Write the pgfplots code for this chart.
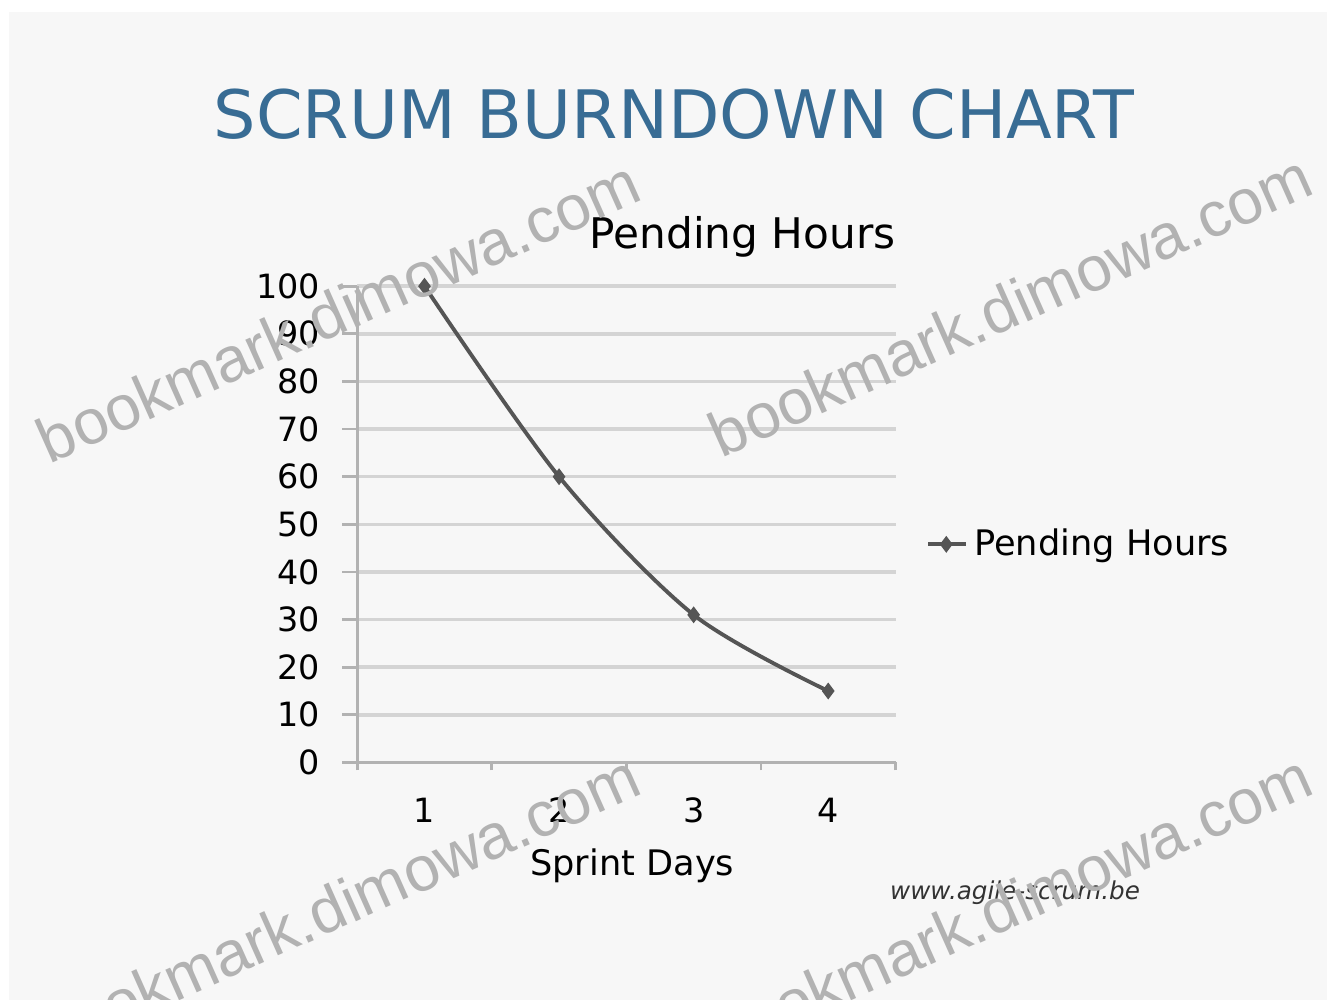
\documentclass[border=0pt]{standalone}
\usepackage{pgfplots}
\pgfplotsset{compat=1.18}
\usepackage{fontspec}
\setmainfont{DejaVu Sans}
\newfontfamily\wmfont{Liberation Sans}
\definecolor{bg}{RGB}{247,247,247}
\definecolor{ttl}{RGB}{56,108,148}
\definecolor{gridc}{RGB}{212,212,212}
\definecolor{ser}{RGB}{85,85,85}
\definecolor{wm}{RGB}{178,178,178}
\begin{document}
\begin{tikzpicture}[x=0.01cm,y=-0.01cm]
\path[use as bounding box] (0,0) rectangle (1327,1000);
\clip (0,0) rectangle (1327,1000);
\fill[white] (0,0) rectangle (1327,1000);
\fill[bg] (9,12) rectangle (1327,1000);
\node[text=ttl, font=\fontsize{19}{22}\selectfont] at (674,114) {SCRUM BURNDOWN CHART};
\begin{axis}[
  at={(3.57cm,-7.62cm)}, anchor=south west,
  scale only axis, width=5.38cm, height=4.76cm,
  xmin=0.5, xmax=4.5, ymin=0, ymax=100,
  clip=false,
  axis lines*=left,
  axis line style={draw=black!30, line width=0.8pt},
  ytick={0,10,...,100},
  xtick={1,2,3,4},
  minor xtick={0.5,1.5,2.5,3.5,4.5},
  ymajorgrids,
  grid style={draw=gridc, line width=1pt},
  tick align=outside,
  major tick length=0.15cm,
  minor tick length=0.08cm,
  major x tick style={draw=none},
  minor x tick style={draw=black!30, line width=0.8pt},
  y tick style={draw=black!30, line width=0.8pt},
  /pgf/number format/assume math mode=true,
  yticklabel style={font=\fontsize{9.5}{11}\selectfont, xshift=-0.1cm},
  xticklabel style={font=\fontsize{9.5}{11}\selectfont, yshift=-0.08cm},
  title={Pending Hours},
  title style={at={(axis description cs:0.716,1.059)}, anchor=center, font=\fontsize{12}{14}\selectfont},
  xlabel={Sprint Days},
  xlabel style={at={(axis description cs:0.511,-0.218)}, anchor=center, font=\fontsize{10}{12}\selectfont},
  legend style={at={(axis description cs:1.056,0.458)}, anchor=west, draw=none, fill=none,
    font=\fontsize{10}{12}\selectfont, inner sep=0pt},
  legend cell align=left,
  legend image code/.code={\draw[mark repeat=2,mark phase=2,#1] plot coordinates {(0cm,0cm) (0.18cm,0cm) (0.37cm,0cm)};},
]
\addplot[ser, line width=1.1pt, smooth, mark=diamond*, mark size=1.5pt, mark options={fill=ser}]
  coordinates {(1,100) (2,60) (3,31) (4,15)};
\addlegendentry{Pending Hours}
\end{axis}
\node[font=\fontsize{7}{8}\selectfont\itshape, text=black!80] at (1015,893) {www.agile-scrum.be};
\foreach \p in {(338,311),(1010,305),(338,905),(1010,905)}
  \node[rotate=24, text=wm, font=\wmfont\fontsize{18}{21}\selectfont] at \p {bookmark.dimowa.com};
\end{tikzpicture}
\end{document}
